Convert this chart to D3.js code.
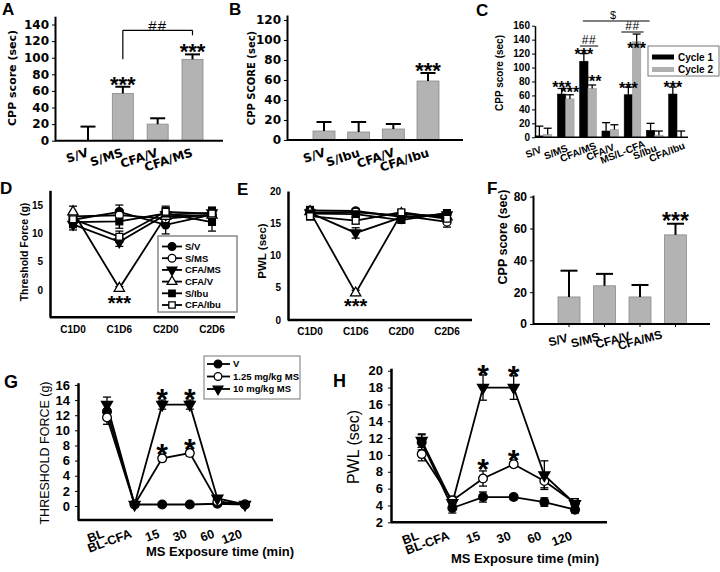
<!DOCTYPE html>
<html><head><meta charset="utf-8">
<script src="https://cdn.jsdelivr.net/npm/d3@7/dist/d3.min.js"></script>
<style>html,body{margin:0;padding:0;background:#fff;} svg{display:block;}</style>
</head><body>
<script>
// ================= DATA =================
// Panel A
const aCats = ["S/V", "S/MS", "CFA/V", "CFA/MS"];
const aMean = [0, 57, 20, 98];
const aErr = [17, 8, 7, 6];
const aStars = ["", "***", "", "***"];
const aTicks = [0, 20, 40, 60, 80, 100, 120, 140];
// Panel B
const bCats = ["S/V", "S/Ibu", "CFA/V", "CFA/Ibu"];
const bMean = [9, 8, 11, 59];
const bErr = [9, 10, 5, 8];
const bStars = ["", "", "", "***"];
const bTicks = [0, 20, 40, 60, 80, 100, 120];
// Panel C
const cCats = ["S/V", "S/MS", "CFA/MS", "CFA/V", "MS/L-CFA", "S/Ibu", "CFA/Ibu"];
const cSeries = ["Cycle 1", "Cycle 2"];
const cCycle1 = [2, 62, 109, 9, 61, 10, 62];
const cCycle1Err = [14, 8, 11, 12, 11, 10, 10];
const cCycle2 = [4, 55, 70, 11, 137, 3, 0];
const cCycle2Err = [9, 6, 5, 7, 11, 6, 9];
const cStars1 = ["", "***", "***", "", "***", "", "***"];
const cStars2 = ["", "***", "***", "", "***", "", ""];
const cTicks = [0, 20, 40, 60, 80, 100, 120, 140, 160];
// Panel D (threshold force, g)
const dCats = ["C1D0", "C1D6", "C2D0", "C2D6"];
const dNames = ["S/V", "S/MS", "CFA/MS", "CFA/V", "S/Ibu", "CFA/Ibu"];
const dSV = [12.4, 13.8, 11.5, 13.3];      const dSVErr = [1.2, 1.2, 1.6, 1.3];
const dSMS = [13.0, 13.2, 12.6, 13.3];     const dSMSErr = [0.8, 1.0, 1.0, 1.0];
const dCFAMS = [11.6, 8.5, 13.3, 13.6];    const dCFAMSErr = [1.0, 0.8, 1.2, 1.0];
const dCFAV = [13.8, 0.3, 13.0, 13.2];     const dCFAVErr = [1.0, 0.3, 1.2, 1.2];
const dSIbu = [12.0, 12.1, 13.5, 12.0];    const dSIbuErr = [1.0, 1.2, 1.0, 1.6];
const dCFAIbu = [12.5, 9.4, 13.8, 13.5];   const dCFAIbuErr = [1.0, 1.0, 1.0, 0.8];
const dTicks = [0, 5, 10, 15];
// Panel E (PWL, sec)
const eSV = [17.0, 16.9, 16.0, 16.4];      const eSVErr = [0.6, 0.4, 0.4, 0.4];
const eSMS = [16.7, 16.7, 16.2, 15.2];     const eSMSErr = [0.5, 0.4, 0.4, 0.8];
const eCFAMS = [16.6, 13.5, 15.9, 16.3];   const eCFAMSErr = [0.8, 0.8, 0.4, 0.4];
const eCFAV = [16.8, 4.2, 16.5, 16.0];     const eCFAVErr = [0.6, 0.4, 0.4, 0.5];
const eSIbu = [16.5, 16.4, 15.5, 16.6];    const eSIbuErr = [0.5, 0.4, 0.4, 0.4];
const eCFAIbu = [16.1, 15.4, 16.7, 15.7];  const eCFAIbuErr = [0.6, 0.5, 0.4, 0.5];
const eTicks = [0, 5, 10, 15, 20];
// Panel F
const fCats = ["S/V", "S/MS", "CFA/V", "CFA/MS"];
const fMean = [17, 24, 17, 56];
const fErr = [16.5, 7.5, 7.5, 7];
const fStars = ["", "", "", "***"];
const fTicks = [0, 20, 40, 60, 80];
// Panel G (threshold force)
const gCats = ["BL", "BL-CFA", "15", "30", "60", "120"];
const gNames = ["V", "1.25 mg/kg MS", "10 mg/kg MS"];
const gV = [12.5, 0.2, 0.2, 0.2, 0.3, 0.2];     const gVErr = [1.0, 0.1, 0.1, 0.1, 0.1, 0.1];
const gLow = [11.7, 0.2, 6.3, 7.0, 0.6, 0.2];   const gLowErr = [0.9, 0.1, 0.4, 0.4, 0.4, 0.1];
const gHigh = [13.4, 0.2, 13.4, 13.4, 1.0, 0.2]; const gHighErr = [1.0, 0.1, 0.6, 0.6, 0.3, 0.1];
const gLowStars = ["", "", "*", "*", "", ""];
const gHighStars = ["", "", "*", "*", "", ""];
const gTicks = [0, 2, 4, 6, 8, 10, 12, 14, 16];
// Panel H (PWL)
const hV = [11.5, 3.7, 5.0, 5.0, 4.4, 3.5];      const hVErr = [0.9, 0.6, 0.6, 0.3, 0.5, 0.4];
const hLow = [10.1, 4.6, 7.2, 8.9, 6.9, 4.3];    const hLowErr = [0.8, 0.5, 0.9, 0.3, 0.8, 0.5];
const hHigh = [11.7, 4.3, 18.0, 18.0, 7.6, 4.2]; const hHighErr = [0.8, 0.5, 1.5, 1.4, 1.7, 0.6];
const hLowStars = ["", "", "*", "*", "", ""];
const hHighStars = ["", "", "*", "*", "", ""];
const hTicks = [2, 4, 6, 8, 10, 12, 14, 16, 18, 20];

// ================= STYLE / HELPERS =================
const ARIAL = "'Liberation Sans', Arial, Helvetica, sans-serif";
const VERD = "'DejaVu Sans', Verdana, sans-serif";
const BAR_FILL = "#b3b3b3", BAR_STROKE = "#8a8a8a";

const svg = d3.select("body").append("svg").attr("width", 720).attr("height", 572);
svg.append("rect").attr("width", 720).attr("height", 572).attr("fill", "#fff");

function txt(g, x, y, s, o = {}) {
  const t = g.append("text").attr("x", x).attr("y", y).text(s)
    .attr("font-family", o.ff || ARIAL).attr("font-size", o.fs || 10)
    .attr("font-weight", o.fw || "bold").attr("text-anchor", o.anchor || "middle")
    .attr("fill", "#000");
  if (o.rot !== undefined) t.attr("transform", `rotate(${o.rot},${x},${y})`);
  if (o.dy) t.attr("dy", o.dy);
  if (o.ls) t.attr("letter-spacing", o.ls);
  return t;
}
function seg(g, x1, y1, x2, y2, lw, col) {
  return g.append("line").attr("x1", x1).attr("y1", y1).attr("x2", x2).attr("y2", y2)
    .attr("stroke", col || "#000").attr("stroke-width", lw);
}
function yAxis(g, y, x0, ticks, o) {
  const ax = d3.axisLeft(y).tickValues(ticks).tickSize(o.ts ?? 3).tickSizeOuter(0).tickPadding(o.pad ?? 3);
  const ag = g.append("g").attr("transform", `translate(${x0},0)`).call(ax);
  ag.select(".domain").attr("stroke", "#000").attr("stroke-width", o.lw);
  ag.selectAll(".tick line").attr("stroke", "#000").attr("stroke-width", 1);
  ag.selectAll(".tick text").attr("font-family", o.ff).attr("font-size", o.fs)
    .attr("font-weight", "bold").attr("fill", "#000");
  return ag;
}
const SHAPES = { circle: d3.symbolCircle, triangle: d3.symbolTriangle, square: d3.symbolSquare };
const SIZES = { circle: 52, triangle: 46, square: 46 };
function marker(g, cx, cy, m, k = 1) {
  g.append("path").attr("d", d3.symbol().type(SHAPES[m.shape]).size(SIZES[m.shape] * k)())
    .attr("transform", `translate(${cx},${cy})${m.down ? " rotate(180)" : ""}`)
    .attr("fill", m.fill).attr("stroke", "#000").attr("stroke-width", 1.3);
}
function starText(g, cx, cyCenter, s, fs) {
  if (!s) return;
  txt(g, cx, cyCenter + 0.55 * fs, s, { fs: fs, ff: ARIAL });
}

function barPanel(p) {
  const g = svg.append("g");
  const x = d3.scalePoint().domain(p.cats).range(p.xr);
  const y = d3.scaleLinear().domain(p.yd).range(p.yr);
  g.selectAll("rect.bar").data(p.mean).join("rect").attr("class", "bar")
    .attr("x", (d, i) => x(p.cats[i]) - p.bw / 2).attr("width", p.bw)
    .attr("y", d => y(d)).attr("height", d => y(0) - y(d))
    .attr("fill", BAR_FILL).attr("stroke", d => d > 0 ? BAR_STROKE : "none").attr("stroke-width", 0.8);
  p.mean.forEach((m, i) => {
    const cx = x(p.cats[i]), yt = y(m + p.err[i]);
    seg(g, cx, y(m), cx, yt, p.elw);
    seg(g, cx - p.cap / 2, yt, cx + p.cap / 2, yt, p.elw);
    starText(g, cx, yt - 7, p.stars[i], p.sfs);
  });
  yAxis(g, y, p.ax0, p.ticks, { lw: p.alw, ff: p.ff, fs: p.tfs, ts: 3, pad: 3 });
  seg(g, p.ax0, y(0), p.ax1, y(0), p.alw);
  return { g, x, y };
}

function linePanel(p) {
  const g = svg.append("g");
  const x = d3.scalePoint().domain(p.cats).range(p.xr);
  const y = d3.scaleLinear().domain(p.yd).range(p.yr);
  const line = d3.line().x((d, i) => x(p.cats[i])).y(d => y(d));
  p.series.forEach(s => g.append("path").attr("d", line(s.values))
    .attr("fill", "none").attr("stroke", "#000").attr("stroke-width", p.lw));
  p.series.forEach(s => s.values.forEach((v, i) => {
    const cx = x(p.cats[i]), y1 = y(v + s.err[i]), y2 = y(v - s.err[i]);
    seg(g, cx, y1, cx, y2, 1.3);
    seg(g, cx - p.cap / 2, y1, cx + p.cap / 2, y1, 1.3);
    seg(g, cx - p.cap / 2, y2, cx + p.cap / 2, y2, 1.3);
  }));
  p.series.forEach(s => s.values.forEach((v, i) => marker(g, x(p.cats[i]), y(v), s.m, p.mk)));
  yAxis(g, y, p.ax0, p.ticks, { lw: p.alw, ff: ARIAL, fs: p.tfs, ts: p.ts, pad: p.pad });
  seg(g, p.ax0, p.yr[0], p.ax1, p.yr[0], p.alw);
  return { g, x, y };
}

const MK = {
  fc: { shape: "circle", fill: "#000" }, oc: { shape: "circle", fill: "#fff" },
  ftd: { shape: "triangle", fill: "#000", down: true }, otu: { shape: "triangle", fill: "#fff" },
  fs: { shape: "square", fill: "#000" }, os: { shape: "square", fill: "#fff" }
};

// ================= PANEL LETTERS =================
[["A", 2, 15, 15], ["B", 229, 15, 15], ["C", 476, 16, 15], ["D", 0, 194, 15], ["E", 237, 195, 15],
 ["F", 487, 194, 15], ["G", 4, 388, 16], ["H", 333, 387, 16]].forEach(([s, x, y, fs]) =>
  txt(svg, x, y, s, { fs: fs + 2, anchor: "start" }));

// ================= PANEL A =================
{
  const P = barPanel({ cats: aCats, mean: aMean, err: aErr, stars: aStars, xr: [88, 192.5], bw: 21,
    yd: [0, 150], yr: [140.7, 16.2], ax0: 55, ax1: 223, ticks: aTicks, ff: VERD, tfs: 12,
    alw: 2, elw: 2, cap: 15, sfs: 22 });
  aCats.forEach(c => txt(P.g, P.x(c) + 1, 156, c, { ff: VERD, fs: 12, anchor: "end", rot: -18 }));
  txt(P.g, 12, 78, "CPP score (sec)", { ff: VERD, fs: 11, rot: -90, dy: "0.35em" });
  // ## bracket S/MS vs CFA/MS
  const xl = P.x("S/MS"), xr = P.x("CFA/MS"), yTop = P.y(133);
  seg(P.g, xl, P.y(98), xl, yTop, 1.2);
  seg(P.g, xl, yTop, xr, yTop, 1.2);
  seg(P.g, xr, yTop, xr, P.y(127), 1.2);
  txt(P.g, (xl + xr) / 2, 26, "##", { fs: 15, fw: "normal", dy: "0.35em", ls: 1 });
}

// ================= PANEL B =================
{
  const P = barPanel({ cats: bCats, mean: bMean, err: bErr, stars: bStars, xr: [324, 428], bw: 22,
    yd: [0, 125], yr: [140, 15], ax0: 287, ax1: 463, ticks: bTicks, ff: VERD, tfs: 12,
    alw: 2, elw: 2, cap: 15, sfs: 22 });
  bCats.forEach(c => txt(P.g, P.x(c) + 2, 156, c, { ff: VERD, fs: 12, anchor: "end", rot: -18 }));
  txt(P.g, 251, 78, "CPP SCORE (sec)", { ff: VERD, fs: 10, rot: -90, dy: "0.35em" });
}

// ================= PANEL C =================
{
  const g = svg.append("g");
  const x0 = d3.scaleBand().domain(cCats).range([532.4, 688.1]).paddingInner(0).paddingOuter(0);
  const x1 = d3.scaleBand().domain(cSeries).range([0, x0.bandwidth()]).paddingInner(0).paddingOuter(0.34);
  const y = d3.scaleLinear().domain([0, 160]).range([137.3, 25.7]);
  const vals = [cCycle1, cCycle2], errs = [cCycle1Err, cCycle2Err], stars = [cStars1, cStars2];
  const fills = ["#000", "#b0b0b0"];
  const bracketY1 = 32;
  cSeries.forEach((s, si) => {
    g.selectAll(`rect.s${si}`).data(vals[si]).join("rect").attr("class", `s${si}`)
      .attr("x", (d, i) => x0(cCats[i]) + x1(s)).attr("width", x1.bandwidth())
      .attr("y", d => y(d)).attr("height", d => y(0) - y(d))
      .attr("fill", fills[si]).attr("stroke", si ? "#999" : "#000").attr("stroke-width", 0.6);
  });
  cSeries.forEach((s, si) => vals[si].forEach((v, i) => {
    const cx = x0(cCats[i]) + x1(s) + x1.bandwidth() / 2, yt = y(v + errs[si][i]);
    seg(g, cx, y(v), cx, yt, 1.3);
    seg(g, cx - 4, yt, cx + 4, yt, 1.3);
  }));
  cSeries.forEach((s, si) => vals[si].forEach((v, i) => {
    const cx = x0(cCats[i]) + x1(s) + x1.bandwidth() / 2;
    starText(g, cx, Math.max(y(v) - 10, bracketY1 + 13), stars[si][i], 16);
  }));
  yAxis(g, y, 535, cTicks, { lw: 1.5, ff: ARIAL, fs: 10, ts: 3, pad: 2 });
  seg(g, 535, y(0), 688, y(0), 1.5);
  cCats.forEach(c => txt(g, x0(c) + x0.bandwidth() / 2 - 10, 152, c, { fs: 10, rot: -22, dy: "0.35em" }));
  txt(g, 499, 73, "CPP score (sec)", { fs: 10, rot: -90, dy: "0.35em" });
  // ## brackets and $
  const b1 = x0("CFA/MS"), b2 = x0("MS/L-CFA"), bw = x0.bandwidth();
  seg(g, b1 + 3, 46, b1 + bw - 1, 46, 1);
  txt(g, b1 + bw / 2 + 1, 40, "##", { fs: 12, fw: "normal", dy: "0.35em", ls: 0.5 });
  seg(g, b2, bracketY1, b2 + bw, bracketY1, 1);
  txt(g, b2 + bw / 2, 26, "##", { fs: 12, fw: "normal", dy: "0.35em", ls: 0.5 });
  seg(g, b1 + 6, 21, b2 + bw + 6, 21, 1);
  txt(g, 613, 15, "$", { fs: 11, fw: "normal", dy: "0.35em" });
  // legend
  const lg = g.append("g");
  lg.append("rect").attr("x", 648).attr("y", 46).attr("width", 71).attr("height", 30)
    .attr("fill", "#fff").attr("stroke", "#777").attr("stroke-width", 1);
  cSeries.forEach((s, si) => {
    const yy = 57 + si * 12.5;
    lg.append("rect").attr("x", 652).attr("y", yy - 2.5).attr("width", 22).attr("height", 5)
      .attr("fill", fills[si]);
    txt(lg, 678, yy, s, { fs: 10, anchor: "start", dy: "0.35em" });
  });
}

// ================= PANEL D =================
{
  const series = [
    { values: dSV, err: dSVErr, m: MK.fc }, { values: dSMS, err: dSMSErr, m: MK.oc },
    { values: dCFAMS, err: dCFAMSErr, m: MK.ftd }, { values: dCFAV, err: dCFAVErr, m: MK.otu },
    { values: dSIbu, err: dSIbuErr, m: MK.fs }, { values: dCFAIbu, err: dCFAIbuErr, m: MK.os }];
  const P = linePanel({ cats: dCats, series, xr: [73, 212], yd: [-4.8, 17.6], yr: [317.2, 190.3],
    ax0: 50, ax1: 235, ticks: dTicks, tfs: 10, alw: 2.5, lw: 1.8, cap: 8, mk: 1, ts: 0, pad: 7 });
  dCats.forEach(c => txt(P.g, P.x(c), 333, c, { fs: 10 }));
  txt(P.g, 24, 252, "Threshold Force (g)", { fs: 10.5, rot: -90, dy: "0.35em" });
  starText(P.g, P.x("C1D6"), P.y(dCFAV[1] - dCFAVErr[1]) + 9, "***", 20);
  const lg = P.g.append("g");
  lg.append("rect").attr("x", 158).attr("y", 236).attr("width", 79).attr("height", 76)
    .attr("fill", "#fff").attr("stroke", "#888").attr("stroke-width", 1.5);
  dNames.forEach((n, i) => {
    const yy = 246.5 + i * 11.7;
    seg(lg, 162, yy, 182, yy, 1.8);
    marker(lg, 172, yy, series[i].m, 0.9);
    txt(lg, 185, yy, n, { fs: 9.5, anchor: "start", dy: "0.35em" });
  });
}

// ================= PANEL E =================
{
  const series = [
    { values: eSV, err: eSVErr, m: MK.fc }, { values: eSMS, err: eSMSErr, m: MK.oc },
    { values: eCFAMS, err: eCFAMSErr, m: MK.ftd }, { values: eCFAV, err: eCFAVErr, m: MK.otu },
    { values: eSIbu, err: eSIbuErr, m: MK.fs }, { values: eCFAIbu, err: eCFAIbuErr, m: MK.os }];
  const P = linePanel({ cats: dCats, series, xr: [310, 447], yd: [0, 20], yr: [320, 191],
    ax0: 288, ax1: 472, ticks: eTicks, tfs: 10, alw: 2.5, lw: 1.8, cap: 8, mk: 1, ts: 0, pad: 7 });
  dCats.forEach(c => txt(P.g, P.x(c), 335, c, { fs: 10 }));
  txt(P.g, 262, 251, "PWL (sec)", { fs: 11.5, rot: -90, dy: "0.35em" });
  starText(P.g, P.x("C1D6"), P.y(eCFAV[1] - eCFAVErr[1]) + 7, "***", 20);
}

// ================= PANEL F =================
{
  const P = barPanel({ cats: fCats, mean: fMean, err: fErr, stars: fStars, xr: [569, 675.5], bw: 22,
    yd: [0, 81], yr: [324, 195.1], ax0: 533, ax1: 710, ticks: fTicks, ff: ARIAL, tfs: 12,
    alw: 2, elw: 2, cap: 17, sfs: 23 });
  fCats.forEach(c => seg(P.g, P.x(c), P.y(0), P.x(c), P.y(0) + 3, 1));
  const lx = d3.scalePoint().domain(fCats).range([558, 640]);
  fCats.forEach(c => txt(P.g, lx(c), 340, c, { fs: 12, rot: -15, dy: "0.35em" }));
  txt(P.g, 503, 237, "CPP score (sec)", { fs: 12.5, rot: -90, dy: "0.35em" });
}

// ================= PANEL G =================
{
  const series = [
    { values: gV, err: gVErr, m: MK.fc }, { values: gLow, err: gLowErr, m: MK.oc },
    { values: gHigh, err: gHighErr, m: MK.ftd }];
  const P = linePanel({ cats: gCats, series, xr: [107, 245], yd: [-1.85, 16.3], yr: [520, 382.7],
    ax0: 78, ax1: 273, ticks: gTicks, tfs: 13, alw: 2.5, lw: 1.8, cap: 8, mk: 1.15, ts: 3, pad: 5 });
  gCats.forEach(c => txt(P.g, P.x(c) - 2, 537, c, { fs: 12.5, anchor: "end", rot: -20 }));
  txt(P.g, 220, 556, "MS Exposure time (min)", { fs: 13 });
  txt(P.g, 45, 453, "THRESHOLD FORCE (g)", { fs: 12.5, fw: "normal", rot: -90, dy: "0.35em" });
  gCats.forEach((c, i) => {
    starText(P.g, P.x(c), P.y(gHigh[i] + gHighErr[i]) - 8, gHighStars[i], 30);
    starText(P.g, P.x(c), P.y(gLow[i] + gLowErr[i]) - 8, gLowStars[i], 30);
  });
  const lg = P.g.append("g");
  lg.append("rect").attr("x", 204).attr("y", 356).attr("width", 96).attr("height", 43)
    .attr("fill", "#fff").attr("stroke", "#777").attr("stroke-width", 1);
  gNames.forEach((n, i) => {
    const yy = 364 + i * 12.5;
    seg(lg, 207, yy, 230, yy, 1.8);
    marker(lg, 218, yy, series[i].m, 0.9);
    txt(lg, 233, yy, n, { fs: 9.5, anchor: "start", dy: "0.35em" });
  });
}

// ================= PANEL H =================
{
  const series = [
    { values: hV, err: hVErr, m: MK.fc }, { values: hLow, err: hLowErr, m: MK.oc },
    { values: hHigh, err: hHighErr, m: MK.ftd }];
  const P = linePanel({ cats: gCats, series, xr: [421.7, 575], yd: [2, 20.3], yr: [522.3, 368.2],
    ax0: 391, ax1: 607, ticks: hTicks, tfs: 13, alw: 2.5, lw: 1.8, cap: 8, mk: 1.15, ts: 3, pad: 5 });
  gCats.forEach(c => txt(P.g, P.x(c) - 2, 539, c, { fs: 12.5, anchor: "end", rot: -20 }));
  txt(P.g, 525, 563, "MS Exposure time (min)", { fs: 13 });
  txt(P.g, 353, 447, "PWL (sec)", { fs: 16, fw: "normal", rot: -90, dy: "0.35em" });
  gCats.forEach((c, i) => {
    starText(P.g, P.x(c), P.y(hHigh[i] + hHighErr[i]) - 6, hHighStars[i], 30);
    starText(P.g, P.x(c), P.y(hLow[i] + hLowErr[i]) - 8, hLowStars[i], 30);
  });
}
</script>
</body></html>
